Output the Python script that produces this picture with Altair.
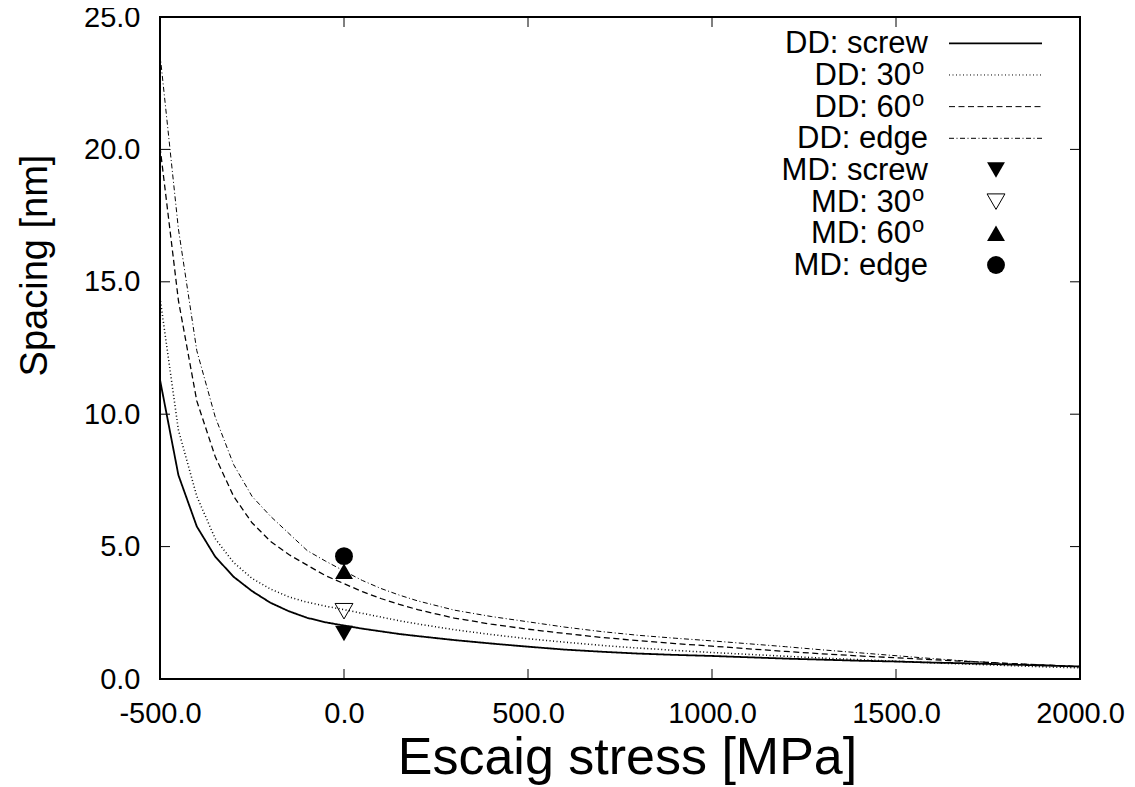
import altair as alt
import pandas as pd

# ---------------- data ----------------
stress = [-500, -450, -400, -350, -300, -250, -200, -150, -100, -50, 0, 50, 100, 150, 200,
          300, 400, 500, 600, 700, 800, 900, 1000, 1100, 1200, 1300, 1400, 1500, 1600,
          1700, 1800, 1900, 2000]

dd_screw = [11.3, 7.7, 5.76, 4.62, 3.86, 3.32, 2.88, 2.56, 2.31, 2.14, 2.02, 1.9, 1.8, 1.7, 1.62,
            1.47, 1.34, 1.22, 1.11, 1.03, 0.96, 0.91, 0.87, 0.82, 0.77, 0.73, 0.69, 0.66, 0.62,
            0.59, 0.55, 0.51, 0.47]
dd_30 = [14.4, 9.4, 6.9, 5.3, 4.4, 3.8, 3.4, 3.1, 2.9, 2.75, 2.62, 2.48, 2.34, 2.2, 2.08,
         1.86, 1.68, 1.52, 1.39, 1.27, 1.17, 1.08, 1.0, 0.93, 0.86, 0.79, 0.73, 0.67, 0.61,
         0.56, 0.51, 0.46, 0.42]
dd_60 = [20.1, 14.3, 10.5, 8.4, 6.9, 5.9, 5.2, 4.7, 4.3, 3.9, 3.6, 3.3, 3.04, 2.82, 2.62,
         2.3, 2.07, 1.88, 1.72, 1.57, 1.45, 1.34, 1.24, 1.14, 1.04, 0.95, 0.87, 0.8, 0.73,
         0.66, 0.59, 0.53, 0.47]
dd_edge = [23.6, 17.0, 12.4, 9.9, 8.1, 6.9, 6.15, 5.5, 4.85, 4.45, 4.08, 3.72, 3.42, 3.17, 2.95,
           2.6, 2.36, 2.16, 1.96, 1.79, 1.65, 1.54, 1.44, 1.33, 1.22, 1.1, 0.99, 0.88, 0.77,
           0.67, 0.59, 0.53, 0.47]

md_kind = ["screw", "30", "60", "edge"]
md_stress = [0, 0, 0, 0]
md_spacing = [1.72, 2.56, 4.07, 4.64]

x_ticks = [-500, 0, 500, 1000, 1500, 2000]
y_ticks = [0, 5, 10, 15, 20, 25]

legend_labels = ["DD: screw", "DD: 30", "DD: 60", "DD: edge",
                 "MD: screw", "MD: 30", "MD: 60", "MD: edge"]
legend_sup = ["", "o", "o", "", "", "o", "o", ""]

# ---------------- layout / style ----------------
W, H = 920, 662
FONT = "Liberation Sans"
series_names = ["screw", "30", "60", "edge"]
dashes = [[1, 0], [1, 2.5], [6, 3.5], [5, 2.5, 1, 2.5]]
widths = [1.8, 1.0, 1.0, 1.0]
MSIZE = 320

xscale = alt.Scale(domain=[-500, 2000], nice=False, zero=False)
yscale = alt.Scale(domain=[0, 25], nice=False, zero=False)
fmt = "(datum.value < 0 ? '-' : '') + format(abs(datum.value), '.1f')"

x_axis = alt.Axis(values=x_ticks, labelExpr=fmt, ticks=False, tickSize=0, domain=False,
                  grid=False, labelFontSize=29, labelPadding=20, labelFont=FONT,
                  labelColor="black", labelFlush=False, labelOverlap=False,
                  title="Escaig stress [MPa]", titleFontSize=52, titleFont=FONT,
                  titleFontWeight="normal", titleColor="black", titleX=467, titleY=94,
                  titleBaseline="alphabetic", titleAlign="center")
y_axis = alt.Axis(values=y_ticks, labelExpr=fmt, ticks=False, tickSize=0, domain=False,
                  grid=False, labelFontSize=29, labelPadding=20, labelFont=FONT,
                  labelColor="black", labelFlush=False, labelOverlap=False,
                  title="Spacing [nm]", titleFontSize=38, titleFont=FONT,
                  titleFontWeight="normal", titleColor="black", titleX=-125, titleY=248,
                  titleBaseline="middle", titleAlign="center", titleAngle=270)

# long table for curves
rows = []
for name, vals in zip(series_names, [dd_screw, dd_30, dd_60, dd_edge]):
    for s, v in zip(stress, vals):
        rows.append({"stress": s, "spacing": v, "series": name})
df_lines = pd.DataFrame(rows)

curves = alt.Chart(df_lines).mark_line(color="black", clip=True).encode(
    x=alt.X("stress:Q", scale=xscale, axis=x_axis),
    y=alt.Y("spacing:Q", scale=yscale, axis=y_axis),
    detail="series:N",
    strokeDash=alt.StrokeDash("series:N", scale=alt.Scale(domain=series_names, range=dashes), legend=None),
    strokeWidth=alt.StrokeWidth("series:N", scale=alt.Scale(domain=series_names, range=widths), legend=None),
)

df_md = pd.DataFrame({"stress": md_stress, "spacing": md_spacing, "kind": md_kind})
md_shapes = {"screw": ("triangle-down", True), "30": ("triangle-down", False),
             "60": ("triangle-up", True), "edge": ("circle", True)}
md_layers = []
for k in md_kind:
    shp, filled = md_shapes[k]
    md_layers.append(
        alt.Chart(df_md).transform_filter(alt.datum.kind == k).mark_point(
            shape=shp, filled=filled, size=MSIZE, color="black", strokeWidth=1, opacity=1
        ).encode(x=alt.X("stress:Q", scale=xscale, axis=x_axis),
                 y=alt.Y("spacing:Q", scale=yscale, axis=y_axis))
    )

# inward ticks on all four sides
xt = alt.Chart(pd.DataFrame({"stress": x_ticks}))
yt = alt.Chart(pd.DataFrame({"spacing": y_ticks}))
tick_layers = [
    xt.mark_rule(color="black", strokeWidth=1).encode(
        x=alt.X("stress:Q", scale=xscale, axis=x_axis), y=alt.value(H), y2=alt.value(H - 10)),
    xt.mark_rule(color="black", strokeWidth=1).encode(
        x=alt.X("stress:Q", scale=xscale, axis=x_axis), y=alt.value(0), y2=alt.value(10)),
    yt.mark_rule(color="black", strokeWidth=1).encode(
        y=alt.Y("spacing:Q", scale=yscale, axis=y_axis), x=alt.value(0), x2=alt.value(10)),
    yt.mark_rule(color="black", strokeWidth=1).encode(
        y=alt.Y("spacing:Q", scale=yscale, axis=y_axis), x=alt.value(W), x2=alt.value(W - 10)),
]

# custom gnuplot-style key
df_leg = pd.DataFrame({"label": legend_labels, "sup": legend_sup})
leg_layers = []
for i, (lab, sup) in enumerate(zip(legend_labels, legend_sup)):
    base_y = 36.3 + 31.67 * i
    cy = base_y - 10
    src = alt.Chart(df_leg).transform_filter(alt.datum.label == lab)
    tx = 751 if sup else 768
    leg_layers.append(src.mark_text(align="right", baseline="alphabetic", fontSize=31,
                                    font=FONT, color="black").encode(
        text="label:N", x=alt.value(tx), y=alt.value(base_y)))
    if sup:
        leg_layers.append(src.mark_text(align="left", baseline="alphabetic", fontSize=22,
                                        font=FONT, color="black").encode(
            text="sup:N", x=alt.value(tx + 1), y=alt.value(base_y - 11)))
    if i < 4:
        leg_layers.append(src.mark_rule(color="black", strokeWidth=widths[i],
                                        strokeDash=dashes[i]).encode(
            x=alt.value(789), x2=alt.value(882), y=alt.value(cy)))
    else:
        shp, filled = md_shapes[md_kind[i - 4]]
        leg_layers.append(src.mark_point(shape=shp, filled=filled, size=MSIZE, color="black",
                                         strokeWidth=1, opacity=1).encode(
            x=alt.value(836), y=alt.value(cy)))

chart = alt.layer(curves, *md_layers, *tick_layers, *leg_layers).properties(
    width=W, height=H,
    autosize=alt.AutoSizeParams(type="none"),
    padding={"left": 152, "top": 9, "right": 47, "bottom": 108},
    background="white",
).configure_view(stroke="black", strokeWidth=2)

chart.save("out.html", embed_options={"renderer": "svg", "actions": False})
